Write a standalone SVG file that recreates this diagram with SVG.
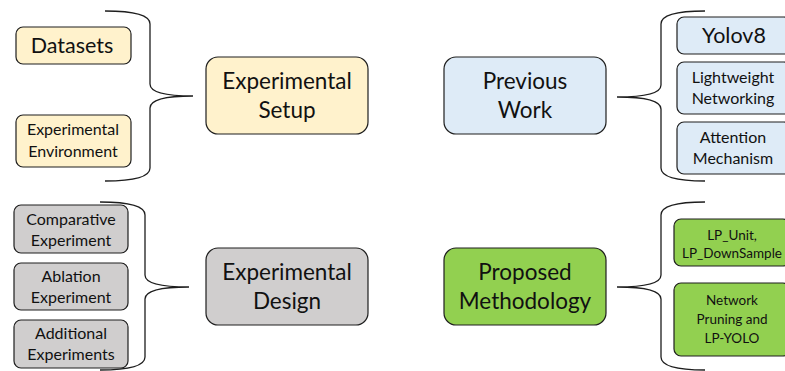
<svg xmlns="http://www.w3.org/2000/svg" width="785" height="371" viewBox="0 0 785 371">
  <style>
    .box { stroke: #1e1e1e; stroke-width: 1.2; }
    .yellow { fill: #FFF2CC; }
    .blue { fill: #DEEBF7; }
    .gray { fill: #D0CECE; }
    .green { fill: #92D050; }
    text { font-family: "Lato", "Open Sans", sans-serif; fill: #111; text-anchor: middle; }
    .big { font-size: 22.5px; }
    .mid { font-size: 21.5px; }
    .sm { font-size: 16px; }
    .xs { font-size: 13.5px; }
    .brace { fill: none; stroke: #1e1e1e; stroke-width: 1.3; }
  </style>
  <rect width="785" height="371" fill="#ffffff"/>

  <!-- braces linking each topic to its sub-items -->
  <g id="connectors">
    <path class="brace" d="M105,11 Q150,11 150,24 L150,84 Q150,96 193,96 Q150,96 150,108 L150,168 Q150,181 105,181"/>
    <path class="brace" d="M705,11 Q661,11 661,24 L661,85 Q661,97 617,97 Q661,97 661,109 L661,168 Q661,181 705,181"/>
    <path class="brace" d="M100,202 Q145,202 145,215 L145,275 Q145,287 189,287 Q145,287 145,299 L145,357 Q145,370 100,370"/>
    <path class="brace" d="M705,202 Q661,202 661,215 L661,275 Q661,287 617,287 Q661,287 661,299 L661,357 Q661,370 705,370"/>
  </g>

  <!-- Experimental Setup -->
  <g id="experimental-setup">
    <rect class="box yellow" x="206" y="57" width="162" height="77" rx="12"/>
    <text class="big" x="287" y="89">Experimental</text>
    <text class="big" x="287" y="118">Setup</text>
  </g>
  <g id="datasets">
    <rect class="box yellow" x="16" y="27" width="115" height="37" rx="7"/>
    <text class="mid" x="72" y="53">Datasets</text>
  </g>
  <g id="experimental-environment">
    <rect class="box yellow" x="16" y="115" width="115" height="52" rx="7"/>
    <text class="sm" x="73" y="135">Experimental</text>
    <text class="sm" x="73" y="157">Environment</text>
  </g>

  <!-- Previous Work -->
  <g id="previous-work">
    <rect class="box blue" x="444" y="57" width="162" height="77" rx="12"/>
    <text class="big" x="525" y="89">Previous</text>
    <text class="big" x="525" y="118">Work</text>
  </g>
  <g id="yolov8">
    <rect class="box blue" x="677" y="17" width="114" height="37" rx="7"/>
    <text class="mid" x="734" y="43">Yolov8</text>
  </g>
  <g id="lightweight-networking">
    <rect class="box blue" x="677" y="62" width="114" height="52" rx="7"/>
    <text class="sm" x="733" y="83">Lightweight</text>
    <text class="sm" x="733" y="104">Networking</text>
  </g>
  <g id="attention-mechanism">
    <rect class="box blue" x="677" y="122" width="114" height="52" rx="7"/>
    <text class="sm" x="733" y="143">Attention</text>
    <text class="sm" x="733" y="164">Mechanism</text>
  </g>

  <!-- Experimental Design -->
  <g id="experimental-design">
    <rect class="box gray" x="206" y="248" width="162" height="77" rx="12"/>
    <text class="big" x="287" y="280">Experimental</text>
    <text class="big" x="287" y="309">Design</text>
  </g>
  <g id="comparative-experiment">
    <rect class="box gray" x="14" y="205" width="114" height="48" rx="7"/>
    <text class="sm" x="71" y="225">Comparative</text>
    <text class="sm" x="71" y="246">Experiment</text>
  </g>
  <g id="ablation-experiment">
    <rect class="box gray" x="14" y="263" width="114" height="47" rx="7"/>
    <text class="sm" x="71" y="282">Ablation</text>
    <text class="sm" x="71" y="303">Experiment</text>
  </g>
  <g id="additional-experiments">
    <rect class="box gray" x="14" y="320" width="114" height="48" rx="7"/>
    <text class="sm" x="71" y="339">Additional</text>
    <text class="sm" x="71" y="360">Experiments</text>
  </g>

  <!-- Proposed Methodology -->
  <g id="proposed-methodology">
    <rect class="box green" x="444" y="248" width="162" height="77" rx="12"/>
    <text class="big" x="525" y="280">Proposed</text>
    <text class="big" x="525" y="309">Methodology</text>
  </g>
  <g id="lp-unit-downsample">
    <rect class="box green" x="674" y="219" width="116" height="47" rx="7"/>
    <text class="xs" x="732" y="240">LP_Unit,</text>
    <text class="xs" x="732" y="258">LP_DownSample</text>
  </g>
  <g id="network-pruning">
    <rect class="box green" x="674" y="283" width="116" height="73" rx="7"/>
    <text class="xs" x="732" y="305">Network</text>
    <text class="xs" x="732" y="324">Pruning and</text>
    <text class="xs" x="732" y="343">LP-YOLO</text>
  </g>
</svg>
